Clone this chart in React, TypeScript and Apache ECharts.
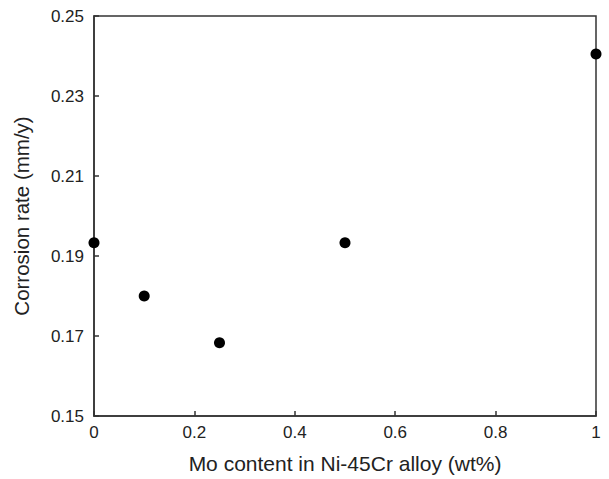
import React, { useEffect, useRef } from "react";
import * as echarts from "echarts";

const moContent = [0, 0.1, 0.25, 0.5, 1];
const corrosionRate = [0.1933, 0.18, 0.1683, 0.1933, 0.2405];

export default function App() {
  const ref = useRef<HTMLDivElement>(null);
  useEffect(() => {
    const chart = echarts.init(ref.current!, null, { renderer: "svg" });
    const font = "Liberation Sans, Arial, sans-serif";
    chart.setOption({
      animation: false,
      backgroundColor: "#ffffff",
      grid: {
        left: 94,
        right: 13,
        top: 16,
        bottom: 63,
        show: true,
        borderColor: "#333",
        borderWidth: 1.5,
        backgroundColor: "transparent",
      },
      xAxis: {
        type: "value",
        min: 0,
        max: 1,
        interval: 0.2,
        name: "Mo content in Ni-45Cr alloy (wt%)",
        nameLocation: "middle",
        nameGap: 37,
        nameTextStyle: { fontFamily: font, fontSize: 21, color: "#222" },
        axisLine: { show: true, lineStyle: { color: "#333", width: 1.5 } },
        axisTick: { show: true, inside: true, length: 5, lineStyle: { color: "#333", width: 1.5 } },
        axisLabel: { fontFamily: font, fontSize: 17, color: "#222", margin: 8 },
        splitLine: { show: false },
      },
      yAxis: {
        type: "value",
        min: 0.15,
        max: 0.25,
        interval: 0.02,
        name: "Corrosion rate (mm/y)",
        nameLocation: "middle",
        nameGap: 62,
        nameTextStyle: { fontFamily: font, fontSize: 20.5, color: "#222" },
        axisLine: { show: true, lineStyle: { color: "#333", width: 1.5 } },
        axisTick: { show: true, inside: true, length: 5, lineStyle: { color: "#333", width: 1.5 } },
        axisLabel: {
          fontFamily: font,
          fontSize: 17,
          color: "#222",
          margin: 10,
          formatter: (v: number) => v.toFixed(2),
        },
        splitLine: { show: false },
      },
      series: [
        {
          type: "scatter",
          data: moContent.map((x, i) => [x, corrosionRate[i]]),
          symbol: "circle",
          symbolSize: 11,
          itemStyle: { color: "#000", opacity: 1 },
          clip: false,
        },
      ],
    });
    return () => chart.dispose();
  }, []);
  return (
    <div
      ref={ref}
      style={{ position: "fixed", left: 0, top: 0, width: 609, height: 479 }}
    />
  );
}
